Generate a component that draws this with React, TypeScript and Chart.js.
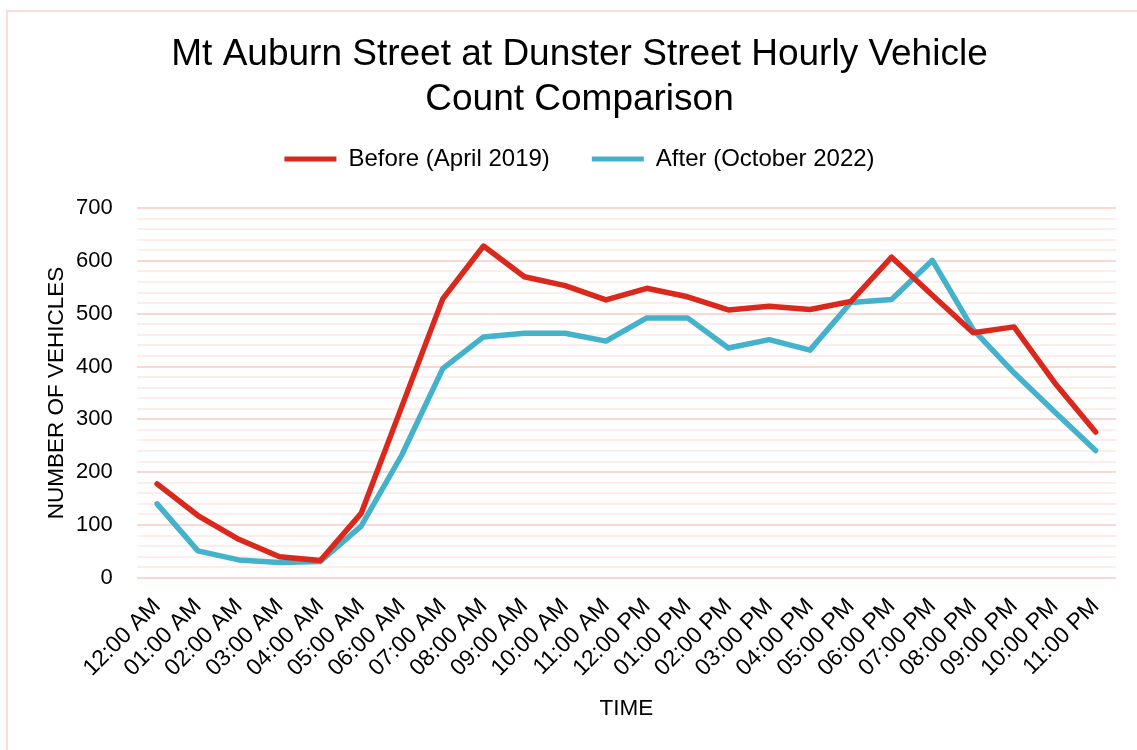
import React, { useEffect, useRef } from "react";
import { Chart, registerables } from "chart.js";

Chart.register(...registerables);

const hours: string[] = [
  "12:00 AM", "01:00 AM", "02:00 AM", "03:00 AM", "04:00 AM", "05:00 AM",
  "06:00 AM", "07:00 AM", "08:00 AM", "09:00 AM", "10:00 AM", "11:00 AM",
  "12:00 PM", "01:00 PM", "02:00 PM", "03:00 PM", "04:00 PM", "05:00 PM",
  "06:00 PM", "07:00 PM", "08:00 PM", "09:00 PM", "10:00 PM", "11:00 PM",
];

const before2019: number[] = [
  178, 118, 73, 40, 33, 122, 325, 528, 628, 570, 553, 526,
  548, 532, 507, 514, 508, 523, 607, 535, 464, 475, 369, 276,
];

const after2022: number[] = [
  140, 51, 34, 29, 31, 98, 233, 396, 456, 463, 463, 448,
  492, 492, 435, 451, 431, 521, 527, 601, 470, 388, 314, 241,
];

const titleLines: string[] = [
  "Mt Auburn Street at Dunster Street Hourly Vehicle",
  "Count Comparison",
];

const FONT = "'Liberation Sans', Arial, sans-serif";
const RED = "#DA281C";
const BLUE = "#43B2CA";

const framePlugin = {
  id: "frame",
  beforeDraw(chart: any) {
    const ctx = chart.ctx;
    ctx.save();
    ctx.fillStyle = "#ffffff";
    ctx.fillRect(0, 0, chart.width, chart.height);
    ctx.strokeStyle = "#FBDEDA";
    ctx.lineWidth = 2;
    ctx.beginPath();
    ctx.moveTo(7, chart.height);
    ctx.lineTo(7, 11);
    ctx.lineTo(chart.width, 11);
    ctx.stroke();
    ctx.restore();
  },
};

export default function App() {
  const ref = useRef<HTMLCanvasElement | null>(null);

  useEffect(() => {
    if (!ref.current) return;
    const chart = new Chart(ref.current, {
      type: "line",
      data: {
        labels: hours,
        datasets: [
          {
            label: "Before (April 2019)",
            data: before2019,
            borderColor: RED,
            backgroundColor: RED,
            borderWidth: 5.5,
            pointRadius: 0,
            tension: 0,
            borderJoinStyle: "round",
            borderCapStyle: "round",
          },
          {
            label: "After (October 2022)",
            data: after2022,
            borderColor: BLUE,
            backgroundColor: BLUE,
            borderWidth: 5.5,
            pointRadius: 0,
            tension: 0,
            borderJoinStyle: "round",
            borderCapStyle: "round",
          },
        ],
      },
      options: {
        responsive: false,
        animation: false,
        maintainAspectRatio: false,
        layout: { padding: { top: 10, left: 43, right: 21, bottom: 28 } },
        plugins: {
          title: {
            display: true,
            text: titleLines,
            color: "#000",
            font: { family: FONT, size: 37, weight: "normal", lineHeight: 45 / 37 },
            padding: { top: 22, bottom: -17 },
          },
          legend: {
            display: true,
            labels: {
              color: "#000",
              font: { family: FONT, size: 24 },
              boxWidth: 52,
              boxHeight: 5,
              padding: 42,
              generateLabels: (c: any) =>
                Chart.defaults.plugins.legend.labels
                  .generateLabels(c)
                  .map((l: any) => ({ ...l, lineWidth: 0 })),
            },
          },
          subtitle: {
            display: true,
            text: "",
            weight: 500,
            font: { family: FONT, size: 10, lineHeight: 1 },
            padding: { top: 0, bottom: 17 },
          },
          tooltip: { enabled: false },
        },
        scales: {
          x: {
            offset: true,
            grid: { display: false },
            border: { display: false },
            ticks: {
              color: "#000",
              font: { family: FONT, size: 23 },
              maxRotation: 45,
              minRotation: 45,
              autoSkip: false,
              padding: 7,
            },
            title: {
              display: true,
              text: "TIME",
              color: "#000",
              font: { family: FONT, size: 22.5 },
              padding: { top: 6, bottom: 0 },
            },
          },
          y: {
            min: 0,
            max: 700,
            border: { display: false },
            grid: {
              drawTicks: true,
              tickLength: 16,
              tickColor: "rgba(0,0,0,0)",
              lineWidth: 2,
              color: (ctx: any) =>
                ctx.tick && ctx.tick.value % 100 === 0 ? "#F9D8D4" : "#FDEEEC",
            },
            ticks: {
              stepSize: 20,
              autoSkip: false,
              color: "#000",
              font: { family: FONT, size: 22 },
              padding: 8,
              callback: (v: any) => (Number(v) % 100 === 0 ? String(v) : ""),
            },
            title: {
              display: true,
              text: "NUMBER OF VEHICLES",
              color: "#000",
              font: { family: FONT, size: 22.5 },
              padding: { top: 0, bottom: -2 },
            },
          },
        },
      },
      plugins: [framePlugin],
    });
    return () => chart.destroy();
  }, []);

  return (
    <div style={{ position: "absolute", left: 0, top: 0, width: 1137, height: 750 }}>
      <canvas ref={ref} width={1137} height={750} />
    </div>
  );
}
